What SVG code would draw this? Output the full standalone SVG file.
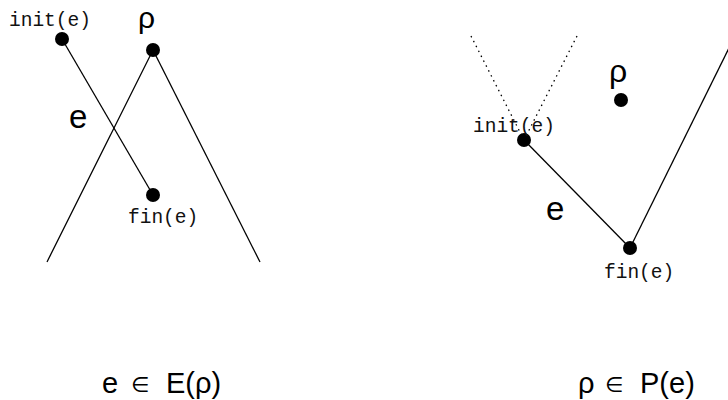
<svg xmlns="http://www.w3.org/2000/svg" width="728" height="400" viewBox="0 0 728 400">
<style>
.ln{stroke:#000;stroke-width:1.3;fill:none}
.dot{fill:#000}
.dt{stroke:#000;stroke-width:1.3;fill:none;stroke-dasharray:1.5 4}
.mono{font-family:"Liberation Mono","DejaVu Sans Mono",monospace;font-size:19.5px;fill:#111}
.big{font-family:"Liberation Sans",Arial,sans-serif;fill:#000}
.sym{font-family:"DejaVu Sans",sans-serif;fill:#000}
</style>
<rect width="728" height="400" fill="#fff"/>
<g id="connectors">
<line class="ln" x1="62" y1="39" x2="153" y2="195"/>
<line class="ln" x1="153" y1="50" x2="47" y2="262"/>
<line class="ln" x1="153" y1="50" x2="260" y2="262"/>
<line class="dt" x1="471" y1="36" x2="524" y2="140"/>
<line class="dt" x1="577" y1="36" x2="524" y2="140"/>
<line class="ln" x1="524" y1="140" x2="630" y2="248"/>
<line class="ln" x1="630" y1="248" x2="732" y2="42"/>
</g>
<g id="left-init"><circle class="dot" cx="62" cy="39" r="7"/><text class="mono" x="9" y="26">init(e)</text></g>
<g id="left-rho"><circle class="dot" cx="153" cy="50" r="7"/><text class="big" x="138" y="28" font-size="30">ρ</text></g>
<g id="left-fin"><circle class="dot" cx="153" cy="195" r="7"/><text class="mono" x="128" y="223">fin(e)</text></g>
<g id="left-e"><text class="big" x="69" y="128" font-size="33">e</text></g>
<g id="right-init"><circle class="dot" cx="524" cy="140" r="7"/><text class="mono" x="473" y="132">init(e)</text></g>
<g id="right-rho"><circle class="dot" cx="621" cy="100" r="7"/><text class="big" x="609" y="82" font-size="32">ρ</text></g>
<g id="right-fin"><circle class="dot" cx="630" cy="248" r="7"/><text class="mono" x="604" y="278">fin(e)</text></g>
<g id="right-e"><text class="big" x="546" y="220" font-size="33">e</text></g>
<g id="caption-left"><text class="big" x="102" y="393" font-size="29">e</text><text class="sym" x="131" y="392" font-size="21">∈</text><text class="big" x="166" y="393" font-size="29">E(ρ)</text></g>
<g id="caption-right"><text class="big" x="578" y="393" font-size="29">ρ</text><text class="sym" x="605" y="392" font-size="21">∈</text><text class="big" x="640" y="393" font-size="29">P(e)</text></g>
</svg>
